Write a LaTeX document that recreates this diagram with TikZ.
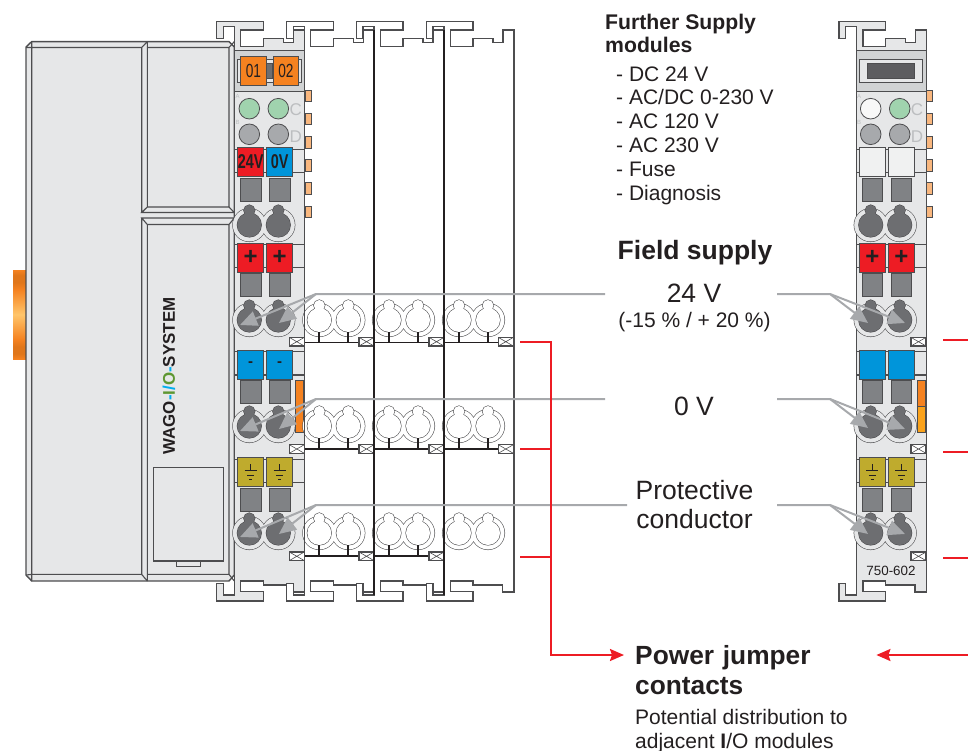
\documentclass[tikz,border=0pt]{standalone}
\usepackage{fontspec}
\setmainfont{Liberation Sans}
\usepackage{graphicx}
\usetikzlibrary{arrows.meta}

\definecolor{bodygray}{HTML}{E6E7E8}
\definecolor{bandgray}{HTML}{D1D3D4}
\definecolor{edgegray}{HTML}{4D4D4F}
\definecolor{inkblack}{HTML}{231F20}
\definecolor{keygray}{HTML}{6D6E71}
\definecolor{slotgray}{HTML}{808285}
\definecolor{ledgray}{HTML}{A7A9AC}
\definecolor{ledgreen}{HTML}{A0D3AE}
\definecolor{letgray}{HTML}{BCBEC0}
\definecolor{wagoorange}{HTML}{F58220}
\definecolor{lightorange}{HTML}{FAA21B}
\definecolor{taborange}{HTML}{F9B77E}
\definecolor{wagored}{HTML}{ED1C24}
\definecolor{wagoblue}{HTML}{0095DA}
\definecolor{wagoolive}{HTML}{BFAB2D}
\definecolor{wagocyan}{HTML}{00AEEF}
\definecolor{wagogreen}{HTML}{5E9732}
\definecolor{knobdark}{HTML}{E0761A}
\definecolor{knoblight}{HTML}{FFC56A}

\pgfdeclareverticalshading{knobshade}{100bp}{
  color(0bp)=(wagoorange); color(25bp)=(wagoorange); color(28bp)=(knobdark); color(32bp)=(knobdark);
  color(36bp)=(wagoorange); color(50bp)=(knoblight); color(64bp)=(wagoorange); color(68bp)=(knobdark);
  color(72bp)=(knobdark); color(75bp)=(wagoorange); color(100bp)=(wagoorange)}

% rail profile and side walls of one module
\newcommand{\moduleshell}[2]{
  \begin{scope}[xshift=#1pt]
    \draw[edge, fill=#2] (0,26.7) -- (-11,26.7) -- (-11,38.3) -- (-17.7,38.3)
      -- (-17.7,21.7) -- (29,21.7) -- (29,30) -- (6.3,30) -- (6.3,46.7) -- (29,46.7)
      -- (29,38.3) -- (49,38.3) -- (49,42.3) -- (59,42.3) -- (59,30) -- (70,30)
      -- (70,592) -- (58.3,592) -- (58.3,585) -- (29,585) -- (29,581) -- (6.3,581)
      -- (6.3,591.7) -- (29,591.7) -- (29,601) -- (-17.7,601) -- (-17.7,583.3)
      -- (-11,583.3) -- (-11,595) -- (0,595) -- cycle;
  \end{scope}
}
% two wire clamps side by side
\newcommand{\clamppair}[5]{
  \draw[edge] (#1,#3) circle[radius=16.5pt] (#2,#3) circle[radius=16.5pt];
  \fill[#5] (#1,#3) circle[radius=16.5pt] (#2,#3) circle[radius=16.5pt];
  \foreach \kx in {#1,#2} {
    \draw[edge] (\kx,#3) circle[radius=12pt] (\kx,#3-14.5) circle[radius=5.5pt];
    \fill[#4] (\kx,#3) circle[radius=12pt] (\kx,#3-14.5) circle[radius=5.5pt];
  }
}
\newcommand{\xbox}[2]{
  \draw[edge, fill=white] (#1,#2-4.3) rectangle (#1+15,#2+4.3);
  \draw[edge, line width=0.6pt] (#1,#2-4.3) -- (#1+15,#2+4.3) (#1,#2+4.3) -- (#1+15,#2-4.3);
}
\newcommand{\gnd}[2]{
  \draw[inkblack, line width=0.9pt] (#1,#2-7.7) -- (#1,#2-1) (#1-6,#2-1) -- (#1+6,#2-1)
    (#1-3.7,#2+3.3) -- (#1+3.7,#2+3.3) (#1-1.7,#2+7.7) -- (#1+1.7,#2+7.7);
}
\newcommand{\narrowtext}[1]{\scalebox{.72}[1]{#1}}

\begin{document}
\begin{tikzpicture}[x=1pt, y=-1pt, >={Stealth[length=14pt, width=12pt, inset=2pt]}]
    \tikzstyle{edge} = [draw=edgegray, line width=1.1pt]
    \tikzstyle{colsq} = [draw=edgegray, line width=0.8pt, minimum width=26pt, minimum height=29pt,
        inner sep=0pt, text=inkblack, font=\fontsize{20}{20}\selectfont\bfseries]
    \tikzstyle{labelsq} = [draw=edgegray, line width=0.8pt, fill=wagoorange, minimum width=25.5pt,
        minimum height=29pt, inner sep=0pt, text=inkblack, font=\fontsize{19}{19}\selectfont]
    \tikzstyle{slot} = [draw=edgegray, line width=0.8pt, fill=slotgray, minimum width=20.7pt,
        minimum height=23.4pt, inner sep=0pt]
    \tikzstyle{led} = [circle, draw=edgegray, line width=0.8pt, minimum size=20.6pt, inner sep=0pt]
    \tikzstyle{tab} = [draw=edgegray, line width=0.5pt, fill=taborange]
    \tikzstyle{small} = [text=letgray, inner sep=0pt, font=\fontsize{6}{6}\selectfont]
    \tikzstyle{letter} = [text=letgray, inner sep=0pt, font=\fontsize{17}{17}\selectfont]
    \tikzstyle{txt} = [inner sep=0pt, text=inkblack, font=\fontsize{21}{24}\selectfont]
    \tikzstyle{big} = [inner sep=0pt, text=inkblack, font=\fontsize{26.5}{30}\selectfont]
    \tikzstyle{bigb} = [inner sep=0pt, text=inkblack, font=\fontsize{26.3}{30}\selectfont\bfseries]
    \tikzstyle{pointer} = [draw=ledgray, line width=2pt]
    \tikzstyle{pointhead} = [pointer, -{Triangle[length=17pt, width=15pt]}]
    \tikzstyle{redwire} = [draw=wagored, line width=2pt]
    \tikzstyle{bar} = [draw=inkblack, line width=1.5pt]
    \tikzstyle{stub} = [draw=inkblack, line width=2pt]

    \useasboundingbox (0,0) rectangle (968,751);

    % controller
    \shade[shading=knobshade] (13,270) rectangle (26,359);
    \draw[draw=edgegray, line width=1.4pt, fill=bodygray] (31.7,41.6) -- (229,41.6) -- (234.3,47)
      -- (234.3,575) -- (229,581) -- (31.7,581) -- (26,575) -- (26,47) -- cycle;
    \draw[edge] (31.7,41.6) -- (31.7,581) (26,47.5) -- (31.7,47.5) -- (141.7,47.5) -- (147.3,41.6)
      (26,575) -- (31.7,574.4) -- (141.7,574.4) -- (147.3,581)
      (141.7,47.5) -- (141.7,212.5) (141.7,218) -- (141.7,574.4)
      (147.3,41.6) -- (147.3,207) (147.3,224.5) -- (147.3,581)
      (147.3,47.5) -- (229,47.5) -- (229,207) (147.3,574.4) -- (229,574.4) -- (229,224.5)
      (229,47.5) -- (234.3,41.6) (229,574.4) -- (234.3,581)
      (147.3,207) -- (229,207) -- (234.3,212.5) -- (141.7,212.5) -- cycle
      (147.3,224.5) -- (229,224.5) -- (234.3,218) -- (141.7,218) -- cycle;
    \node[rotate=90, inner sep=0pt, text=inkblack, font=\fontsize{16.9}{17}\selectfont\bfseries] (logo) at (169,376)
      {WAGO\textcolor{wagocyan}{-}\textcolor{wagogreen}{I}\textcolor{wagocyan}{/}\textcolor{wagogreen}{O}\textcolor{wagocyan}{-}SYSTEM};
    \draw[edge] (153.3,467.5) rectangle (223.3,561);
    \draw[edge, line width=0.7pt] (176.7,561) rectangle (200,566);

    % module rails
    \moduleshell{234.3}{bodygray}
    \moduleshell{304.3}{white}
    \moduleshell{374}{white}
    \moduleshell{444}{white}
    \moduleshell{856.7}{bodygray}

    % upper grey bands
    \foreach \bx in {234.3,856.7} {
        \draw[edge, fill=bandgray] (\bx,50.7) rectangle (\bx+70,91.7);
        \foreach \ly in {149.3,172.3,244.3,267.3,351.7,375,459.3,482.3}
            \draw[edge] (\bx,\ly) -- (\bx+70,\ly);
    }

    % label holders
    \draw[edge, fill=bodygray] (237.3,59.3) rectangle (301.7,82.3);
    \draw[edge, fill=keygray] (266,63.3) rectangle (272.7,78.3);
    \node[labelsq] (no1) at (253.4,70.7) {\narrowtext{01}};
    \node[labelsq] (no2) at (285.9,70.7) {\narrowtext{02}};
    \draw[edge, fill=bodygray] (859.3,59.3) rectangle (922.7,82.3);
    \draw[edge, fill=keygray!85!black] (867.7,63.3) rectangle (914.7,78.3);

    % leds
    \node[led, fill=ledgreen] (ledA) at (249.3,108.7) {};
    \node[led, fill=ledgreen] (ledB) at (278.3,108.7) {};
    \node[led, fill=ledgray] (ledC) at (249.3,134.3) {};
    \node[led, fill=ledgray] (ledD) at (278.3,134.3) {};
    \node[led, fill=white!70!bodygray] (ledE) at (870.7,108.7) {};
    \node[led, fill=ledgreen] (ledF) at (899.7,108.7) {};
    \node[led, fill=ledgray] (ledG) at (870.7,134.3) {};
    \node[led, fill=ledgray] (ledH) at (899.7,134.3) {};
    \node[small] (la) at (237.7,96.7) {A};
    \node[small] (lb) at (237.7,122.7) {B};
    \node[letter] (lc) at (295.7,110) {C};
    \node[letter] (ld) at (295.7,136.7) {D};
    \node[small] (ra) at (859,96.7) {A};
    \node[small] (rb) at (859,122.7) {B};
    \node[letter] (rc) at (917,110) {C};
    \node[letter] (rd) at (917,136.7) {D};

    % contact tabs on the right side
    \foreach \bx in {305,926.3}
        \foreach \ty in {90,113.3,136.7,159.7,182.7,206}
            \draw[tab] (\bx,\ty) rectangle (\bx+6,\ty+11.3);

    % marking squares
    \node[colsq, fill=wagored] (sq1) at (250.7,161.8) {\narrowtext{24V}};
    \node[colsq, fill=wagoblue] (sq2) at (279.7,161.8) {\narrowtext{0V}};
    \node[colsq, fill=wagored, font=\fontsize{24}{24}\selectfont\bfseries] (sq3) at (250.7,257.5) {+};
    \node[colsq, fill=wagored, font=\fontsize{24}{24}\selectfont\bfseries] (sq4) at (279.7,257.5) {+};
    \node[colsq, fill=wagoblue, font=\fontsize{15}{15}\selectfont\bfseries] (sq5) at (250.7,364.5) {-};
    \node[colsq, fill=wagoblue, font=\fontsize{15}{15}\selectfont\bfseries] (sq6) at (279.7,364.5) {-};
    \node[colsq, fill=wagoolive] (sq7) at (250.7,471.8) {};
    \node[colsq, fill=wagoolive] (sq8) at (279.7,471.8) {};
    \node[colsq, fill=bodygray!60!white] (rq1) at (872.3,161.8) {};
    \node[colsq, fill=bodygray!60!white] (rq2) at (901.3,161.8) {};
    \node[colsq, fill=wagored, font=\fontsize{24}{24}\selectfont\bfseries] (rq3) at (872.3,257.5) {+};
    \node[colsq, fill=wagored, font=\fontsize{24}{24}\selectfont\bfseries] (rq4) at (901.3,257.5) {+};
    \node[colsq, fill=wagoblue] (rq5) at (872.3,364.5) {};
    \node[colsq, fill=wagoblue] (rq6) at (901.3,364.5) {};
    \node[colsq, fill=wagoolive] (rq7) at (872.3,471.8) {};
    \node[colsq, fill=wagoolive] (rq8) at (901.3,471.8) {};
    \gnd{250.7}{471.8}
    \gnd{279.7}{471.8}
    \gnd{872.3}{471.8}
    \gnd{901.3}{471.8}

    % grey slots
    \foreach \sy [count=\r] in {189.7,285,392,499.7} {
        \node[slot] (sl\r a) at (250.7,\sy) {};
        \node[slot] (sl\r b) at (279.7,\sy) {};
        \node[slot] (sr\r a) at (872.3,\sy) {};
        \node[slot] (sr\r b) at (901.3,\sy) {};
    }

    % orange strips
    \draw[edge, line width=0.6pt, fill=wagoorange] (295.3,380.3) rectangle (303.3,432.7);
    \draw[edge, line width=0.6pt, fill=wagoorange] (917,380) rectangle (925.3,406);
    \draw[edge, line width=0.6pt, fill=lightorange] (917,406) rectangle (925.3,432.7);

    % clamps
    \foreach \cy in {225,320,426,533} {
        \clamppair{249.3}{278.3}{\cy}{keygray}{bodygray}
        \clamppair{870.7}{899.7}{\cy}{keygray}{bodygray}
    }
    \foreach \mx in {304.3,374,444} {
        \foreach \cy in {320,426,533} {
            \clamppair{\mx+15}{\mx+44}{\cy}{white}{white}
        }
    }

    % power jumper bars
    \foreach \cy/\by in {320/342.7,426/449} {
        \draw[bar] (289.3,\by) -- (498.3,\by);
        \foreach \mx in {304.3,374,444}
            \draw[stub] (\mx+15,\cy+12) -- (\mx+15,\by) (\mx+44,\cy+12) -- (\mx+44,\by);
    }
    \draw[bar] (289.3,556) -- (429,556);
    \foreach \mx in {304.3,374}
        \draw[stub] (\mx+15,545) -- (\mx+15,556) (\mx+44,545) -- (\mx+44,556);
    \xbox{289.3}{341.7}
    \xbox{359}{341.7}
    \xbox{429}{341.7}
    \xbox{498.3}{341.7}
    \xbox{289.3}{449}
    \xbox{359}{449}
    \xbox{429}{449}
    \xbox{498.3}{449}
    \xbox{289.3}{556.3}
    \xbox{359}{556.3}
    \xbox{429}{556.3}
    \xbox{911}{341.7}
    \xbox{911}{449}
    \xbox{911}{556.3}

    % module walls
    \draw[edge, line width=1.4pt] (304.3,30) -- (304.3,595);
    \draw[draw=inkblack, line width=2.2pt] (374,30) -- (374,595);
    \draw[draw=inkblack, line width=2.2pt] (444,30) -- (444,595);

    \node[inner sep=0pt, text=inkblack, font=\fontsize{13.4}{14}\selectfont] (type) at (891,570.7) {750-602};

    % texts
    \node[txt, anchor=base west, font=\fontsize{21.2}{24}\selectfont\bfseries] (fs1) at (605,29.5) {Further Supply};
    \node[txt, anchor=base west, font=\fontsize{21.2}{24}\selectfont\bfseries] (fs2) at (605,53) {modules};
    \node[txt, anchor=base west] (li1) at (616,81.5) {- DC 24 V};
    \node[txt, anchor=base west] (li2) at (616,105) {- AC/DC 0-230 V};
    \node[txt, anchor=base west] (li3) at (616,128.5) {- AC 120 V};
    \node[txt, anchor=base west] (li4) at (616,152.5) {- AC 230 V};
    \node[txt, anchor=base west] (li5) at (616,176.5) {- Fuse};
    \node[txt, anchor=base west] (li6) at (616,200.5) {- Diagnosis};
    \node[bigb, anchor=base, font=\fontsize{26.5}{30}\selectfont\bfseries] (field) at (695,259) {Field supply};
    \node[big, anchor=base] (v24) at (694,302) {24 V};
    \node[txt, anchor=base] (tol) at (694.5,327) {(-15 \% / + 20 \%)};
    \node[big, anchor=base] (v0) at (694,415) {0 V};
    \node[big, anchor=base] (pe1) at (694.5,499) {Protective};
    \node[big, anchor=base] (pe2) at (694.5,528) {conductor};
    \node[bigb, anchor=west, text width=230pt, inner xsep=11pt, text height=18pt, text depth=0pt] (pj) at (624,655) {Power jumper};
    \node[bigb, anchor=base west] (pj2) at (635,694) {contacts};
    \node[txt, anchor=base west] (pd1) at (635,724) {Potential distribution to};
    \node[txt, anchor=base west] (pd2) at (635,748) {adjacent \textbf{I}/O modules};

    % grey pointers, left side
    \coordinate (la1) at (605,294);
    \coordinate (lk1) at (316,294);
    \coordinate (lt1a) at (240,325);
    \coordinate (lt1b) at (279,323);
    \coordinate (la2) at (605,399);
    \coordinate (lk2) at (316,399);
    \coordinate (lt2a) at (240,431);
    \coordinate (lt2b) at (279,429);
    \coordinate (la3) at (627,505);
    \coordinate (lk3) at (316,505);
    \coordinate (lt3a) at (240,537);
    \coordinate (lt3b) at (279,534);
    \foreach \r in {1,2,3} {
        \draw[pointhead] (la\r) -- (lk\r) -- (lt\r a);
        \draw[pointhead] (lk\r) -- (lt\r b);
    }

    % grey pointers, right side
    \coordinate (ra1) at (777,294);
    \coordinate (rk1) at (830,294);
    \coordinate (rt1a) at (868,323);
    \coordinate (rt1b) at (905,323);
    \coordinate (ra2) at (777,399);
    \coordinate (rk2) at (830,399);
    \coordinate (rt2a) at (868,428);
    \coordinate (rt2b) at (905,429);
    \coordinate (ra3) at (777,505);
    \coordinate (rk3) at (830,505);
    \coordinate (rt3a) at (868,534);
    \coordinate (rt3b) at (905,534);
    \foreach \r in {1,2,3} {
        \draw[pointhead] (ra\r) -- (rk\r) -- (rt\r a);
        \draw[pointhead] (rk\r) -- (rt\r b);
    }

    % red jumper lines
    \coordinate (ja) at (520,342);
    \coordinate (jk) at (551,342);
    \coordinate (jb) at (520,449);
    \coordinate (jc) at (520,557);
    \coordinate (jd) at (943,340);
    \coordinate (je) at (943,452);
    \coordinate (jf) at (943,558);
    \coordinate (jg) at (968,655);
    \draw[redwire, ->] (ja) -- (jk) |- (pj.west);
    \draw[redwire] (jb) -- (jb -| jk);
    \draw[redwire] (jc) -- (jc -| jk);
    \draw[redwire] (jd) -- (968,340);
    \draw[redwire] (je) -- (968,452);
    \draw[redwire] (jf) -- (968,558);
    \draw[redwire, ->] (jg) -- (pj.east);
\end{tikzpicture}
\end{document}
